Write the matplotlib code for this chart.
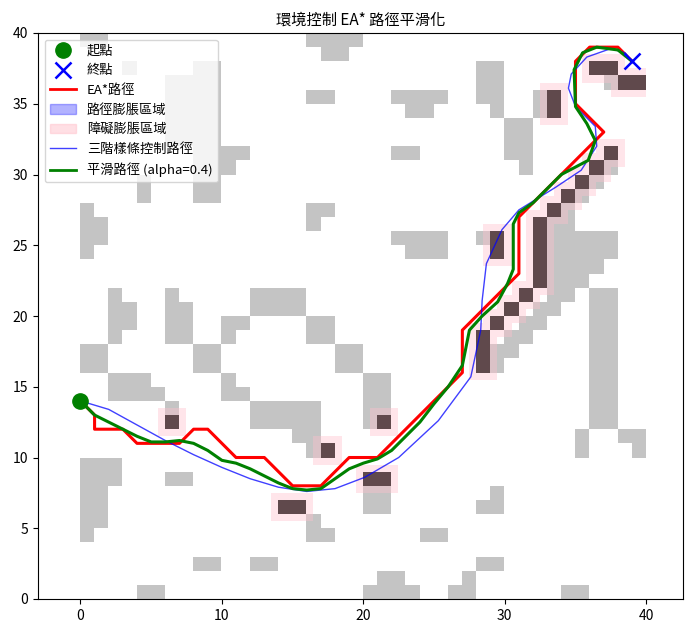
import numpy as np
import matplotlib
matplotlib.use('Agg')
from matplotlib import pyplot as plt
from matplotlib.patches import Patch
from matplotlib.lines import Line2D

plt.rcParams['font.family'] = ['Noto Sans CJK TC', 'DejaVu Sans']

# obstacle blocks (x, y, w, h) in grid cells
gray_blocks = [
    (16, 39, 4, 1), (17, 38, 2, 1), (16, 35, 2, 1), (0, 24, 1, 4), (1, 25, 1, 2),
    (16, 27, 2, 1), (16, 26, 1, 1), (2, 18, 1, 4), (3, 19, 1, 2), (6, 18, 1, 4),
    (7, 18, 1, 3), (12, 20, 4, 2), (10, 19, 2, 1), (10, 18, 1, 1), (16, 18, 2, 2),
    (0, 16, 2, 2), (2, 14, 3, 2), (5, 14, 1, 1), (6, 13, 1, 1), (8, 16, 2, 2),
    (10, 15, 1, 1), (10, 14, 2, 1), (12, 12, 5, 2), (15, 11, 2, 1), (16, 10, 1, 1),
    (18, 16, 2, 2), (0, 8, 3, 2), (0, 5, 2, 3), (0, 4, 1, 1), (6, 8, 2, 1),
    (16, 5, 1, 1), (16, 4, 2, 1), (8, 2, 2, 1), (12, 2, 2, 1), (4, 0, 2, 1),
    (20, 12, 2, 4), (20, 6, 2, 2), (29, 7, 1, 1), (28, 6, 2, 1), (24, 4, 2, 1),
    (28, 2, 2, 1), (27, 1, 1, 1), (26, 0, 2, 1), (21, 1, 2, 1), (20, 0, 4, 1),
    (34, 0, 2, 1), (36, 12, 2, 10), (35, 10, 1, 2), (38, 11, 2, 1), (39, 10, 1, 1),
    (29, 16, 1, 2), (30, 17, 1, 2), (31, 18, 1, 2), (32, 19, 1, 2), (33, 20, 1, 1),
    (33, 21, 2, 1), (34, 22, 2, 1), (33, 22, 2, 5), (34, 24, 4, 2), (35, 23, 2, 1),
    (34, 27, 1, 1), (35, 28, 1, 1), (36, 29, 1, 1), (37, 30, 1, 1),
    (28, 35, 2, 3), (29, 34, 1, 1), (30, 31, 2, 3), (31, 30, 1, 1), (22, 35, 4, 1),
    (23, 34, 2, 1), (22, 31, 2, 1), (32, 34, 1, 2), (37, 36, 1, 1), (22, 25, 4, 1),
    (23, 24, 3, 1), (28, 25, 1, 1),
    (0, 39, 2, 1), (3, 37, 1, 1), (8, 28, 2, 10), (6, 32, 2, 5), (10, 30, 1, 2),
    (11, 31, 1, 1), (4, 28, 1, 2),
]

# obstacles close to the path (drawn dark, with inflation)
dark_cells = [
    (6, 12), (17, 10), (14, 6), (15, 6), (20, 8), (21, 8), (21, 12),
    (28, 16), (28, 17), (28, 18), (29, 19), (30, 20), (31, 21),
    (32, 22), (32, 23), (32, 24), (32, 25), (32, 26), (33, 27), (34, 28),
    (35, 29), (36, 30), (37, 31), (29, 24), (29, 25), (33, 34), (33, 35),
    (36, 37), (37, 37), (38, 36), (39, 36),
]

ea_x = [0, 1, 1, 3, 4, 7, 8, 9, 11, 13, 15, 17, 19, 21, 27, 27, 31, 31, 37, 35, 35, 36, 38, 39]
ea_y = [14, 13, 12, 12, 11, 11, 12, 12, 10, 10, 8, 8, 10, 10, 16, 19, 23, 27, 33, 35, 38, 39, 39, 38]

smooth_x = [0, 1, 2, 3, 4, 5, 6, 7, 8, 9, 10, 11, 12, 13, 14, 15, 16, 17, 18, 19, 20, 21, 22,
            23, 24, 25, 26, 27, 27.5, 28.4, 29.5, 30.2, 30.6, 30.6, 31, 32, 33, 34, 35.9, 36.4,
            35.8, 35.0, 34.9, 35.5, 36.5, 38, 39]
smooth_y = [14, 13, 12.5, 12, 11.5, 11.1, 11.1, 11.2, 11, 10.5, 9.8, 9.6, 9.2, 8.7, 8.2, 7.8,
            7.7, 7.8, 8.5, 9.2, 9.6, 9.9, 10.5, 11.5, 12.5, 13.8, 15, 16.5, 19, 20, 21, 22.3,
            23.3, 26.5, 27.3, 28, 29, 30, 31, 32.4, 33.6, 34.8, 37.4, 38.6, 39, 38.8, 38]

spline_x = [0, 2, 4, 6, 8, 10, 12, 14, 16, 18, 20.1, 22.5, 25.3, 27.6, 28.3, 28.4, 28.7, 29.8,
            31, 33.6, 35.4, 36.5, 36.4, 35, 34.5, 34.7, 35.8, 37.5, 38.5, 39]
spline_y = [14, 13.4, 12.3, 11.2, 10.2, 9.3, 8.5, 7.9, 7.6, 7.8, 8.6, 10.0, 12.6, 15.7, 19,
            21.1, 23.7, 26.1, 27.5, 29.1, 30.3, 32, 33.4, 34.8, 36.1, 37.1, 38.3, 38.9, 38.6, 38]

start = (0, 14)
goal = (39, 38)

N = 40
img = np.ones((N, N, 3))
for x, y, w, h in gray_blocks:
    img[y:y + h, x:x + w] = (0.77, 0.77, 0.77)

dark = np.zeros((N, N, 4))
for x, y in dark_cells:
    dark[y, x] = (0.38, 0.29, 0.30, 1.0)

# inflation mask at half-cell resolution
infl = np.zeros((2 * N, 2 * N))
for x, y in dark_cells:
    infl[max(2 * y - 1, 0):2 * y + 3, max(2 * x - 1, 0):2 * x + 3] = 1
pink = np.zeros((2 * N, 2 * N, 4))
pink[..., :3] = (1.0, 0.75, 0.80)
pink[..., 3] = infl * 0.4

fig = plt.figure(figsize=(6.92, 6.35), dpi=100)
ax = fig.add_axes([38 / 692, 36 / 635, 645 / 692, 566 / 635])
ext = [0, N, 0, N]
ax.imshow(img, origin='lower', extent=ext, interpolation='nearest', aspect='auto')
ax.imshow(pink, origin='lower', extent=ext, interpolation='nearest', aspect='auto')
ax.imshow(dark, origin='lower', extent=ext, interpolation='nearest', aspect='auto')

ax.plot(ea_x, ea_y, color='red', lw=2.2)
ax.plot(spline_x, spline_y, color='blue', lw=1, alpha=0.75)
ax.plot(smooth_x, smooth_y, color='green', lw=2.2)
ax.plot(*start, 'o', color='green', ms=11)
ax.plot(*goal, 'x', color='blue', ms=11, mew=1.8)

ax.set_xlim(-3, 42.6)
ax.set_ylim(0, 40)
ax.set_xticks([0, 10, 20, 30, 40])
ax.set_yticks([0, 5, 10, 15, 20, 25, 30, 35, 40])
ax.set_title('環境控制 EA* 路徑平滑化', fontsize=11)

handles = [
    Line2D([], [], marker='o', color='green', ls='none', ms=11),
    Line2D([], [], marker='x', color='blue', ls='none', ms=11, mew=1.8),
    Line2D([], [], color='red', lw=2),
    Patch(color='blue', alpha=0.3),
    Patch(color='pink', alpha=0.5),
    Line2D([], [], color='blue', lw=1, alpha=0.75),
    Line2D([], [], color='green', lw=2),
]
labels = ['起點', '終點', 'EA*路徑', '路徑膨脹區域', '障礙膨脹區域', '三階樣條控制路徑', '平滑路徑 (alpha=0.4)']
ax.legend(handles, labels, loc='upper left', fontsize=9.5)

fig.savefig('out.png', dpi=100)
